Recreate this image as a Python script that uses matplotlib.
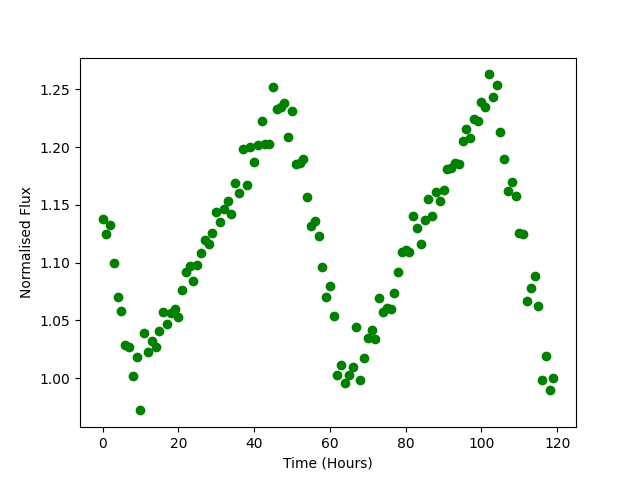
import numpy as np
import matplotlib
matplotlib.use("Agg")
import matplotlib.pyplot as plt

# time of each observation (hours)
hours = np.arange(0, 120)

# normalised flux
flux = [
    1.138, 1.125, 1.133, 1.100, 1.070, 1.058, 1.029, 1.027, 1.002, 1.018,
    0.972, 1.039, 1.023, 1.032, 1.027, 1.041, 1.057, 1.047, 1.056, 1.060,
    1.053, 1.076, 1.092, 1.097, 1.084, 1.098, 1.108, 1.120, 1.116, 1.126,
    1.144, 1.135, 1.146, 1.153, 1.142, 1.169, 1.160, 1.198, 1.167, 1.200,
    1.187, 1.202, 1.223, 1.203, 1.203, 1.252, 1.233, 1.235, 1.238, 1.209,
    1.231, 1.185, 1.186, 1.190, 1.157, 1.132, 1.136, 1.123, 1.096, 1.070,
    1.080, 1.054, 1.003, 1.011, 0.996, 1.003, 1.010, 1.044, 0.998, 1.017,
    1.035, 1.042, 1.034, 1.069, 1.057, 1.061, 1.060, 1.074, 1.092, 1.109,
    1.111, 1.109, 1.140, 1.130, 1.116, 1.137, 1.155, 1.140, 1.161, 1.153,
    1.163, 1.181, 1.182, 1.186, 1.185, 1.205, 1.216, 1.208, 1.224, 1.223,
    1.239, 1.235, 1.263, 1.243, 1.254, 1.213, 1.190, 1.162, 1.170, 1.158,
    1.126, 1.125, 1.067, 1.078, 1.088, 1.062, 0.998, 1.019, 0.990, 1.000,
]

plt.figure(figsize=(6.4, 4.8), dpi=100)
plt.plot(hours, flux, 'o', color='green')
plt.xlabel('Time (Hours)')
plt.ylabel('Normalised Flux')
plt.savefig('out.png')
